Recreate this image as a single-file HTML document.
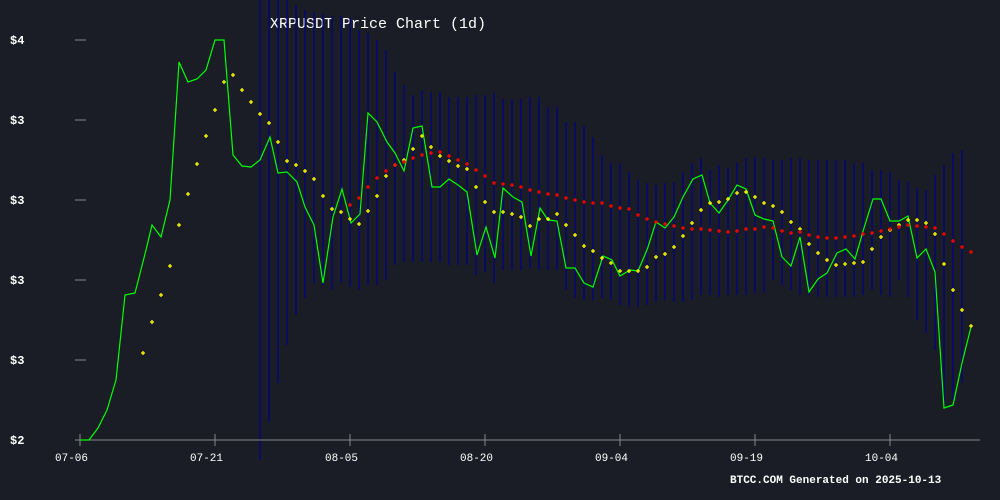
<!DOCTYPE html>
<html><head><meta charset="utf-8"><style>
html,body{margin:0;padding:0;background:#1a1d26;}
svg{display:block}
text{font-family:"Liberation Mono","DejaVu Sans Mono",monospace;fill:#fff}
</style></head><body>
<svg width="1000" height="500" viewBox="0 0 1000 500" xmlns="http://www.w3.org/2000/svg">
<defs>
<path id="cy" d="M-2 0h4M0 -2v4" stroke="#ffff00" stroke-width="1.3"/>
<path id="cr" d="M-2 0h4M0 -2v4" stroke="#ff0000" stroke-width="1.3"/>
</defs>
<rect width="1000" height="500" fill="#1a1d26"/>
<text x="270" y="28" font-size="15">XRPUSDT Price Chart (1d)</text>
<g stroke="#00008b" stroke-width="1.2">
<path d="M260 0V460M269 0V422M278 0V383M287 0V345M296 5V315M305 10V298M314 12V283M323 14V285M332 16V290M341 16V283M350 18V287M359 30V290M368 33V285M377 40V285M386 50V280M395 72V265M404 85V262M413 95V262M422 90V262M431 92V262M440 92V262M449 97V265M458 97V265M467 97V265M476 95V275M485 95V272M494 93V283M503 99V270M512 99V270M521 99V270M530 97V268M539 97V270M548 107V270M557 107V270M566 122V290M575 122V298M584 126V300M593 137V300M602 155V298M611 163V300M620 163V305M629 172V307M638 180V307M647 183V305M656 185V302M665 183V300M674 182V302M683 172V302M692 163V300M701 158V295M710 170V295M719 165V297M728 168V295M737 163V295M746 158V295M755 157V293M764 158V293M773 160V280M782 160V285M791 158V290M800 158V295M809 160V295M818 160V297M827 160V297M836 160V297M845 160V297M854 163V297M863 163V295M872 170V290M881 170V295M890 172V297M899 180V280M908 182V297M917 188V320M926 190V333M935 175V350M944 165V408M953 153V400M962 150V383"/>
</g>
<g stroke="#888" stroke-width="1">
<path d="M75 40h11M75 120h11M75 200h11M75 280h11M75 360h11M75 440h11"/>
<path d="M75 440H980M80 434V446M215 434V446M350 434V446M485 434V446M620 434V446M755 434V446M890 434V446"/>
</g>
<g font-size="12" font-weight="bold">
<text x="10" y="44">$4</text><text x="10" y="124">$3</text><text x="10" y="204">$3</text><text x="10" y="284">$3</text><text x="10" y="364">$3</text><text x="10" y="444">$2</text>
</g>
<g font-size="11">
<text x="55" y="461">07-06</text><text x="190" y="461">07-21</text><text x="325" y="461">08-05</text><text x="460" y="461">08-20</text><text x="595" y="461">09-04</text><text x="730" y="461">09-19</text><text x="865" y="461">10-04</text>
</g>
<text x="730" y="483" font-size="11" font-weight="bold">BTCC.COM Generated on 2025-10-13</text>
<polyline fill="none" stroke="#00ff00" stroke-width="1.2" points="80,440 89,440 98,428 107,410 116,380 125,295 135,293 146,250 152,225 161,237 170,200 179,62 188,82 197,79 206,70 215,40 224,40 233,155 242,166 251,167 260,160 270,137 278,173 287,172 297,182 305,207 314,225 323,283 333,217 342,189 351,223 360,214 368,113 377,122 387,142 395,153 404,171 413,128 422,126 432,187 440,187 449,179 458,185 467,192 477,255 486,227 495,258 503,188 513,197 522,202 531,256 540,208 548,220 557,221 566,268 575,268 584,283 593,287 603,256 612,260 620,276 630,270 638,271 647,250 656,222 665,228 674,217 683,197 693,179 702,175 710,203 719,213 728,200 737,185 746,189 755,215 764,219 773,221 782,257 791,266 800,237 809,292 818,279 827,273 837,253 846,249 855,259 864,228 873,199 881,199 890,221 899,221 908,216 917,258 926,249 935,272 944,408 953,405 962,363 971,327"/>
<g>
<use href="#cy" x="143" y="353"/><use href="#cy" x="152" y="322"/><use href="#cy" x="161" y="295"/><use href="#cy" x="170" y="266"/><use href="#cy" x="179" y="225"/><use href="#cy" x="188" y="194"/><use href="#cy" x="197" y="164"/><use href="#cy" x="206" y="136"/><use href="#cy" x="215" y="110"/><use href="#cy" x="224" y="82"/><use href="#cy" x="233" y="75"/><use href="#cy" x="242" y="90"/><use href="#cy" x="251" y="102"/><use href="#cy" x="260" y="114"/><use href="#cy" x="269" y="123"/><use href="#cy" x="278" y="142"/><use href="#cy" x="287" y="161"/><use href="#cy" x="296" y="165"/><use href="#cy" x="305" y="171"/><use href="#cy" x="314" y="179"/><use href="#cy" x="323" y="196"/><use href="#cy" x="332" y="209"/><use href="#cy" x="341" y="212"/><use href="#cy" x="350" y="219"/><use href="#cy" x="359" y="224"/><use href="#cy" x="368" y="211"/><use href="#cy" x="377" y="196"/><use href="#cy" x="386" y="176"/><use href="#cy" x="395" y="165"/><use href="#cy" x="404" y="160"/><use href="#cy" x="413" y="149"/><use href="#cy" x="422" y="136"/><use href="#cy" x="431" y="147"/><use href="#cy" x="440" y="156"/><use href="#cy" x="449" y="161"/><use href="#cy" x="458" y="166"/><use href="#cy" x="467" y="169"/><use href="#cy" x="476" y="187"/><use href="#cy" x="485" y="202"/><use href="#cy" x="494" y="212"/><use href="#cy" x="503" y="212"/><use href="#cy" x="512" y="214"/><use href="#cy" x="521" y="217"/><use href="#cy" x="530" y="226"/><use href="#cy" x="539" y="219"/><use href="#cy" x="548" y="219"/><use href="#cy" x="557" y="214"/><use href="#cy" x="566" y="225"/><use href="#cy" x="575" y="235"/><use href="#cy" x="584" y="246"/><use href="#cy" x="593" y="251"/><use href="#cy" x="602" y="258"/><use href="#cy" x="611" y="263"/><use href="#cy" x="620" y="271"/><use href="#cy" x="629" y="271"/><use href="#cy" x="638" y="271"/><use href="#cy" x="647" y="267"/><use href="#cy" x="656" y="257"/><use href="#cy" x="665" y="254"/><use href="#cy" x="674" y="247"/><use href="#cy" x="683" y="236"/><use href="#cy" x="692" y="223"/><use href="#cy" x="701" y="210"/><use href="#cy" x="710" y="203"/><use href="#cy" x="719" y="202"/><use href="#cy" x="728" y="199"/><use href="#cy" x="737" y="193"/><use href="#cy" x="746" y="192"/><use href="#cy" x="755" y="197"/><use href="#cy" x="764" y="203"/><use href="#cy" x="773" y="206"/><use href="#cy" x="782" y="212"/><use href="#cy" x="791" y="222"/><use href="#cy" x="800" y="229"/><use href="#cy" x="809" y="244"/><use href="#cy" x="818" y="253"/><use href="#cy" x="827" y="260"/><use href="#cy" x="836" y="265"/><use href="#cy" x="845" y="264"/><use href="#cy" x="854" y="263"/><use href="#cy" x="863" y="262"/><use href="#cy" x="872" y="249"/><use href="#cy" x="881" y="237"/><use href="#cy" x="890" y="230"/><use href="#cy" x="899" y="225"/><use href="#cy" x="908" y="220"/><use href="#cy" x="917" y="220"/><use href="#cy" x="926" y="223"/><use href="#cy" x="935" y="234"/><use href="#cy" x="944" y="264"/><use href="#cy" x="953" y="290"/><use href="#cy" x="962" y="310"/><use href="#cy" x="971" y="326"/>
</g>
<g>
<use href="#cr" x="350" y="205"/><use href="#cr" x="359" y="198"/><use href="#cr" x="368" y="187"/><use href="#cr" x="377" y="178"/><use href="#cr" x="386" y="171"/><use href="#cr" x="395" y="165"/><use href="#cr" x="404" y="162"/><use href="#cr" x="413" y="158"/><use href="#cr" x="422" y="155"/><use href="#cr" x="431" y="153"/><use href="#cr" x="440" y="152"/><use href="#cr" x="449" y="156"/><use href="#cr" x="458" y="160"/><use href="#cr" x="467" y="164"/><use href="#cr" x="476" y="170"/><use href="#cr" x="485" y="176"/><use href="#cr" x="494" y="183"/><use href="#cr" x="503" y="184"/><use href="#cr" x="512" y="185"/><use href="#cr" x="521" y="187"/><use href="#cr" x="530" y="190"/><use href="#cr" x="539" y="192"/><use href="#cr" x="548" y="194"/><use href="#cr" x="557" y="195"/><use href="#cr" x="566" y="198"/><use href="#cr" x="575" y="200"/><use href="#cr" x="584" y="202"/><use href="#cr" x="593" y="203"/><use href="#cr" x="602" y="203"/><use href="#cr" x="611" y="206"/><use href="#cr" x="620" y="208"/><use href="#cr" x="629" y="209"/><use href="#cr" x="638" y="215"/><use href="#cr" x="647" y="219"/><use href="#cr" x="656" y="222"/><use href="#cr" x="665" y="224"/><use href="#cr" x="674" y="226"/><use href="#cr" x="683" y="228"/><use href="#cr" x="692" y="229"/><use href="#cr" x="701" y="229"/><use href="#cr" x="710" y="230"/><use href="#cr" x="719" y="231"/><use href="#cr" x="728" y="232"/><use href="#cr" x="737" y="231"/><use href="#cr" x="746" y="229"/><use href="#cr" x="755" y="229"/><use href="#cr" x="764" y="227"/><use href="#cr" x="773" y="228"/><use href="#cr" x="782" y="231"/><use href="#cr" x="791" y="233"/><use href="#cr" x="800" y="232"/><use href="#cr" x="809" y="235"/><use href="#cr" x="818" y="237"/><use href="#cr" x="827" y="238"/><use href="#cr" x="836" y="238"/><use href="#cr" x="845" y="237"/><use href="#cr" x="854" y="236"/><use href="#cr" x="863" y="234"/><use href="#cr" x="872" y="233"/><use href="#cr" x="881" y="231"/><use href="#cr" x="890" y="229"/><use href="#cr" x="899" y="227"/><use href="#cr" x="908" y="225"/><use href="#cr" x="917" y="226"/><use href="#cr" x="926" y="227"/><use href="#cr" x="935" y="228"/><use href="#cr" x="944" y="234"/><use href="#cr" x="953" y="241"/><use href="#cr" x="962" y="247"/><use href="#cr" x="971" y="252"/>
</g>
</svg>
</body></html>
